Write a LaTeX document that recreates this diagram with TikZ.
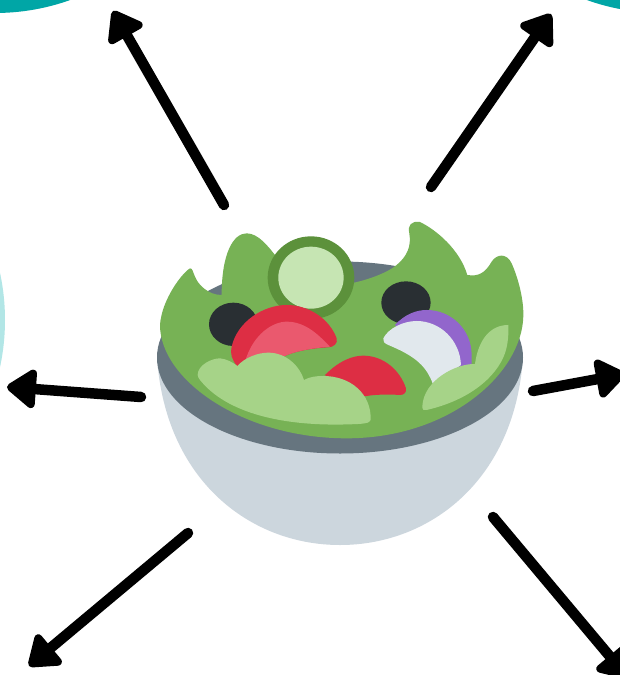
\documentclass[tikz,border=0pt]{standalone}
\usetikzlibrary{arrows.meta}
\definecolor{teal1}{HTML}{00A6A6}
\definecolor{teal2}{HTML}{B2E6E6}
\definecolor{bowl}{HTML}{CCD6DD}
\definecolor{rim}{HTML}{66757F}
\definecolor{leaf}{HTML}{77B255}
\definecolor{leafdark}{HTML}{5C913B}
\definecolor{leaflight}{HTML}{A6D388}
\definecolor{cucumber}{HTML}{C6E5B3}
\definecolor{tomato}{HTML}{DD2E44}
\definecolor{tomatolight}{HTML}{EA596E}
\definecolor{olive}{HTML}{292F33}
\definecolor{onion}{HTML}{9266CC}
\definecolor{onionlight}{HTML}{E1E8ED}
\begin{document}
\begin{tikzpicture}[x=1pt,y=-1pt,
  spoke/.style={-{Triangle[length=32pt,width=44pt,round,line width=10pt]},black,line width=10.5pt,line cap=round}]
\useasboundingbox (0,0) rectangle (620,675);
\clip (0,0) rectangle (620,675);

\fill[white] (0,0) rectangle (620,675);
\fill[teal1] (-5,-210) circle (223);
\fill[teal1] (662,-210) circle (223);
\fill[teal2] (-218,320) circle (223);

\fill[bowl] (157,357) .. controls (165,480) and (250,545) .. (340,545)
  .. controls (430,545) and (515,480) .. (523,357) -- cycle;
\fill[rim] (340,357.5) ellipse (183 and 96);

\begin{scope}[shift={(150,210)},x=0.3333pt,y=-0.3333pt]
\fill[leaf] (30,345) .. controls (35,270) and (95,190) .. (120,175)
  .. controls (128,175) and (128,185) .. (135,200)
  .. controls (145,225) and (175,255) .. (215,255)
  .. controls (215,130) and (250,70) .. (290,70)
  .. controls (325,70) and (355,110) .. (375,135)
  -- (480,250) -- (612,218)
  .. controls (650,210) and (710,190) .. (740,165)
  .. controls (770,140) and (785,110) .. (778,70)
  .. controls (772,45) and (785,32) .. (810,36)
  .. controls (860,60) and (930,120) .. (952,195)
  .. controls (985,200) and (1005,190) .. (1025,155)
  .. controls (1040,132) and (1070,128) .. (1085,160)
  .. controls (1105,205) and (1122,270) .. (1120,320)
  .. controls (1115,490) and (900,685) .. (590,685)
  .. controls (280,685) and (30,510) .. (30,345) -- cycle;
\fill[leafdark] (483,203) ellipse (130 and 124);
\fill[cucumber] (483,203) ellipse (98 and 93);
\fill[olive] (250,343) ellipse (73 and 65);
\fill[olive] (768,278) ellipse (74 and 64);
\fill[tomato] (262,468) .. controls (245,450) and (240,430) .. (245,410)
  .. controls (262,335) and (340,285) .. (410,285)
  .. controls (480,285) and (540,330) .. (560,385)
  .. controls (565,400) and (550,412) .. (535,412)
  .. controls (480,415) and (430,425) .. (400,440) -- cycle;
\fill[tomatolight] (285,455) .. controls (310,370) and (370,335) .. (410,335)
  .. controls (470,335) and (510,380) .. (540,410)
  .. controls (480,415) and (430,425) .. (400,440) -- cycle;
\fill[tomato] (525,495) .. controls (570,450) and (610,437) .. (640,437)
  .. controls (700,437) and (750,480) .. (768,535)
  .. controls (770,548) and (762,555) .. (750,555)
  .. controls (720,553) and (680,553) .. (650,558) -- (600,560) -- cycle;
\fill[onion] (735,345) .. controls (765,312) and (800,300) .. (830,300)
  .. controls (905,300) and (965,360) .. (965,435)
  -- (965,470) -- (900,480) -- cycle;
\fill[onionlight] (700,385) .. controls (715,355) and (760,333) .. (800,333)
  .. controls (870,333) and (930,390) .. (933,465)
  -- (850,525) .. controls (830,470) and (800,440) .. (715,405)
  .. controls (703,400) and (697,393) .. (700,385) -- cycle;
\fill[leaflight] (143,495) .. controls (143,465) and (185,445) .. (210,445)
  .. controls (230,447) and (248,457) .. (262,468)
  .. controls (285,442) and (325,428) .. (355,428)
  .. controls (410,428) and (450,470) .. (462,510)
  .. controls (480,500) and (500,498) .. (520,498)
  .. controls (600,498) and (665,550) .. (662,630)
  .. controls (660,640) and (640,642) .. (600,643)
  .. controls (400,650) and (230,610) .. (150,510)
  .. controls (146,505) and (143,500) .. (143,495) -- cycle;
\fill[leaflight] (1075,345) .. controls (1020,345) and (985,390) .. (975,462)
  .. controls (920,460) and (820,510) .. (817,590)
  .. controls (817,600) and (822,602) .. (830,600)
  .. controls (960,570) and (1040,500) .. (1065,430)
  .. controls (1075,400) and (1076,370) .. (1075,345) -- cycle;
\end{scope}

\coordinate (a1) at (224,205);
\coordinate (b1) at (113,11);
\coordinate (a2) at (431,187);
\coordinate (b2) at (551,14);
\coordinate (a3) at (141,397);
\coordinate (b3) at (7,387);
\coordinate (a4) at (533,391);
\coordinate (b4) at (625,374);
\coordinate (a5) at (188,533);
\coordinate (b5) at (29,666);
\coordinate (a6) at (493,517);
\coordinate (b6) at (628,678);
\foreach \i in {1,...,6} {
  \draw[spoke] (a\i) -- (b\i);
}
\end{tikzpicture}
\end{document}
